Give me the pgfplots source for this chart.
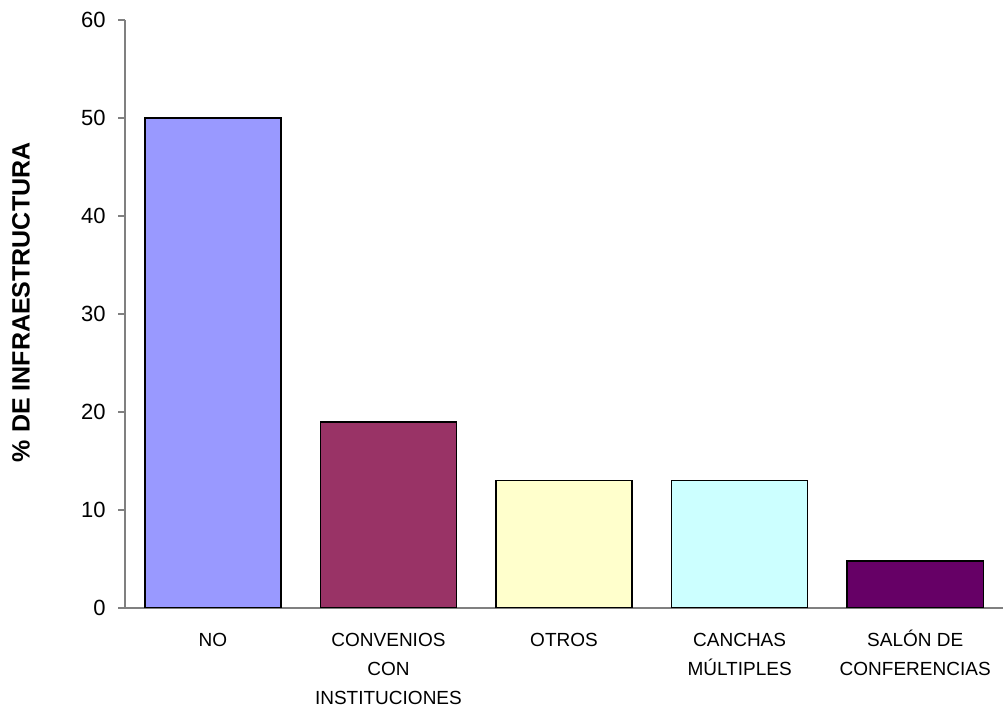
\documentclass[border=0pt]{standalone}
\usepackage{pgfplots}
\pgfplotsset{compat=1.18}
\usepackage{fontspec}
\setmainfont{Liberation Sans}
\definecolor{c1}{HTML}{9999FF}
\definecolor{c2}{HTML}{993366}
\definecolor{c3}{HTML}{FFFFCC}
\definecolor{c4}{HTML}{CCFFFF}
\definecolor{c5}{HTML}{660066}
\definecolor{axgray}{HTML}{808080}
\begin{document}
\begin{tikzpicture}
\begin{axis}[name=ax, scale only axis, width=877.5pt, height=587.7pt,
  xmin=-0.5, xmax=4.5, ymin=0, ymax=60,
  axis x line*=bottom, axis y line*=left,
  axis line style={draw=axgray, line width=1.5pt},
  ytick={0,10,...,60},
  xtick={0,1,2,3,4},
  xticklabels={\vphantom{Ó}NO, \vphantom{Ó}CONVENIOS\\CON\\INSTITUCIONES, \vphantom{Ó}OTROS, \vphantom{Ó}CANCHAS\\MÚLTIPLES, \vphantom{Ó}SALÓN DE\\CONFERENCIAS},
  x tick style={draw=none},
  y tick style={draw=axgray, line width=1.5pt},
  tick align=outside, major tick length=7pt,
  /pgf/number format/assume math mode=true,
  yticklabel style={font=\fontsize{22}{26}\selectfont, xshift=-9pt},
  xticklabel style={font=\fontsize{19}{29}\selectfont, align=center, yshift=-11pt},
  ylabel={\% DE INFRAESTRUCTURA},
  ylabel style={font=\fontsize{25}{30}\selectfont\bfseries, at={(axis description cs:-0.1185,0.52)}, anchor=center},
  ybar, bar width=0.775, bar shift=0pt,
]
\addplot[fill=c1, draw=black, line width=1.5pt] coordinates {(0,50)};
\addplot[fill=c2, draw=black, line width=1.5pt] coordinates {(1,19)};
\addplot[fill=c3, draw=black, line width=1.5pt] coordinates {(2,13)};
\addplot[fill=c4, draw=black, line width=1.5pt] coordinates {(3,13)};
\addplot[fill=c5, draw=black, line width=1.5pt] coordinates {(4,4.8)};
\end{axis}
\pgfresetboundingbox
\path ([xshift=-125pt,yshift=-102.3pt]ax.south west) rectangle ([yshift=20pt]ax.north east);
\end{tikzpicture}
\end{document}
